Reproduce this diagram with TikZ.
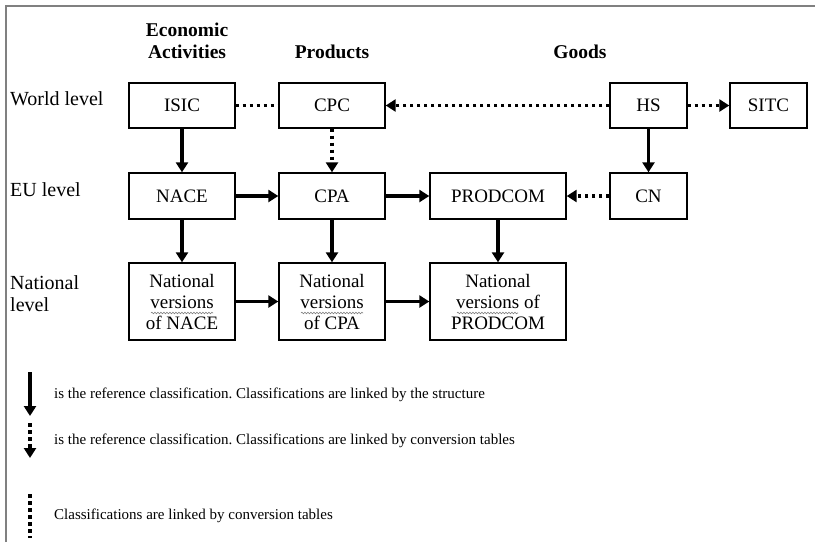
\documentclass[tikz,border=0pt]{standalone}
\usepackage{fontspec}
\setmainfont{Liberation Serif}
\usetikzlibrary{arrows.meta,decorations.pathmorphing}
\frenchspacing
\begin{document}
\begin{tikzpicture}[x=1pt,y=-1pt,
  box/.style={draw=black,line width=1.4pt,rectangle,align=center,inner sep=0pt,font=\fontsize{19}{21}\selectfont},
  lab/.style={anchor=west,align=left,inner sep=0pt,font=\fontsize{20}{22}\selectfont},
  head/.style={align=center,inner sep=0pt,font=\fontsize{19.5}{22}\selectfont\bfseries},
  leg/.style={anchor=west,inner sep=0pt,font=\fontsize{15}{18}\selectfont},
  solidarrow/.style={line width=3.5pt,-{Triangle[length=10pt,width=12pt]}},
  dotarrow/.style={line width=3.5pt,dash pattern=on 3.5pt off 3.5pt,-{Triangle[length=10pt,width=12pt]}},
  dotline/.style={line width=3.5pt,dash pattern=on 3.5pt off 3.5pt},
  wavy/.style={draw=gray,line width=0.6pt,decorate,decoration={snake,segment length=3pt,amplitude=0.8pt}}
]
\useasboundingbox (0,0) rectangle (815,542);
\fill[white] (0,0) rectangle (815,542);
% frame
\draw[gray,line width=2pt] (6,542) -- (6,6) -- (815,6);

% headers
\node[head] (hEA) at (187,41) {Economic\\Activities};
\node[head] (hP) at (332,52) {Products};
\node[head] (hG) at (580,52) {Goods};

% level labels
\node[lab] (lW) at (10,99) {World level};
\node[lab] (lE) at (10,190) {EU level};
\node[lab] (lN) at (10,294) {National\\level};

% boxes
\node[box,minimum width=106pt,minimum height=45pt] (isic) at (182,105.5) {ISIC};
\node[box,minimum width=106pt,minimum height=45pt] (cpc) at (332,105.5) {CPC};
\node[box,minimum width=77pt,minimum height=45pt] (hs) at (648.5,105.5) {HS};
\node[box,minimum width=77pt,minimum height=45pt] (sitc) at (768.5,105.5) {SITC};

\node[box,minimum width=106pt,minimum height=46pt] (nace) at (182,196) {NACE};
\node[box,minimum width=106pt,minimum height=46pt] (cpa) at (332,196) {CPA};
\node[box,minimum width=136pt,minimum height=46pt] (prodcom) at (498,196) {PRODCOM};
\node[box,minimum width=77pt,minimum height=46pt] (cn) at (648.5,196) {CN};

\node[box,minimum width=106pt,minimum height=77pt] (nnace) at (182,301.5) {National\\versions\\of NACE};
\node[box,minimum width=106pt,minimum height=77pt] (ncpa) at (332,301.5) {National\\versions\\of CPA};
\node[box,minimum width=136pt,minimum height=77pt] (nprodcom) at (498,301.5) {National\\versions of\\PRODCOM};

% spell-check underlines
\draw[wavy] (151,313) -- (213,313);
\draw[wavy] (301,313) -- (363,313);
\draw[wavy] (457,313) -- (518,313);

% connectors
\draw[dotline] (isic) -- (cpc);
\draw[dotarrow] (hs) -- (cpc);
\draw[dotarrow] (hs) -- (sitc);
\draw[solidarrow] (isic) -- (nace);
\draw[dotarrow] (cpc) -- (cpa);
\draw[solidarrow] (hs) -- (cn);
\draw[solidarrow] (nace) -- (cpa);
\draw[solidarrow] (cpa) -- (prodcom);
\draw[dotarrow] (cn) -- (prodcom);
\draw[solidarrow] (nace) -- (nnace);
\draw[solidarrow] (cpa) -- (ncpa);
\draw[solidarrow] (prodcom) -- (nprodcom);
\draw[solidarrow] (nnace) -- (ncpa);
\draw[solidarrow] (ncpa) -- (nprodcom);

% legend
\coordinate (a1) at (30,372); \coordinate (b1) at (30,416);
\coordinate (a2) at (30,423); \coordinate (b2) at (30,458);
\coordinate (a3) at (30,494); \coordinate (b3) at (30,538);
\draw[solidarrow] (a1) -- (b1);
\draw[dotarrow] (a2) -- (b2);
\draw[dotline] (a3) -- (b3);
\node[leg] (t1) at (54,395) {is the reference classification. Classifications are linked by the structure};
\node[leg] (t2) at (54,441) {is the reference classification. Classifications are linked by conversion tables};
\node[leg] (t3) at (54,516) {Classifications are linked by conversion tables};
\end{tikzpicture}
\end{document}
